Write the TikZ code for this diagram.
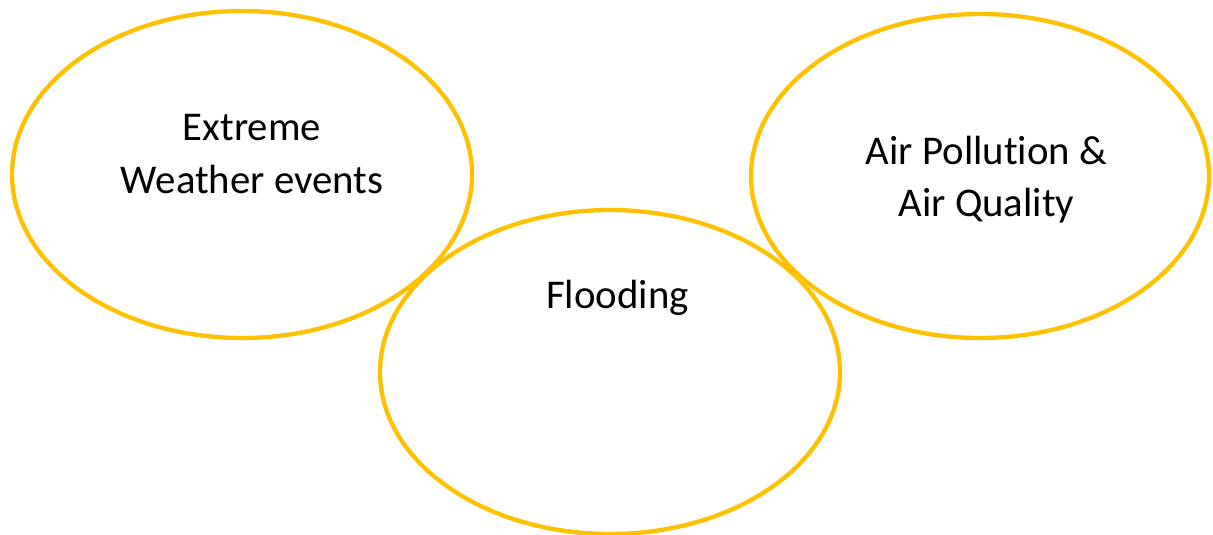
\documentclass[tikz,border=0pt]{standalone}
\usepackage{fontspec}
\setmainfont{Carlito}[Ligatures=CommonOff]
\usetikzlibrary{shapes.geometric}
\begin{document}
\begin{tikzpicture}[x=1pt,y=-1pt,
  bubble/.style={draw=gold,line width=4.3pt,ellipse,inner sep=0pt,outer sep=0pt},
  label/.style={font=\fontsize{40.8}{52.5}\selectfont,align=center,inner sep=0pt,text=black}]
\definecolor{gold}{HTML}{FFC000}
\useasboundingbox (0,0) rectangle (1213,535);
\node[bubble,minimum width=460pt,minimum height=327pt] (ew) at (242,174.5) {};
\node[bubble,minimum width=458pt,minimum height=324pt] (ap) at (980,176) {};
\node[bubble,minimum width=460pt,minimum height=324pt] (fl) at (610,372) {};
\node[label] (tew) at (252,154) {Extreme\\Weather events};
\node[label] (tap) at (986.5,179.5) {Air Pollution \&\\Air Quality};
\node[label] (tfl) at (617.5,298) {Flooding};
\end{tikzpicture}
\end{document}
